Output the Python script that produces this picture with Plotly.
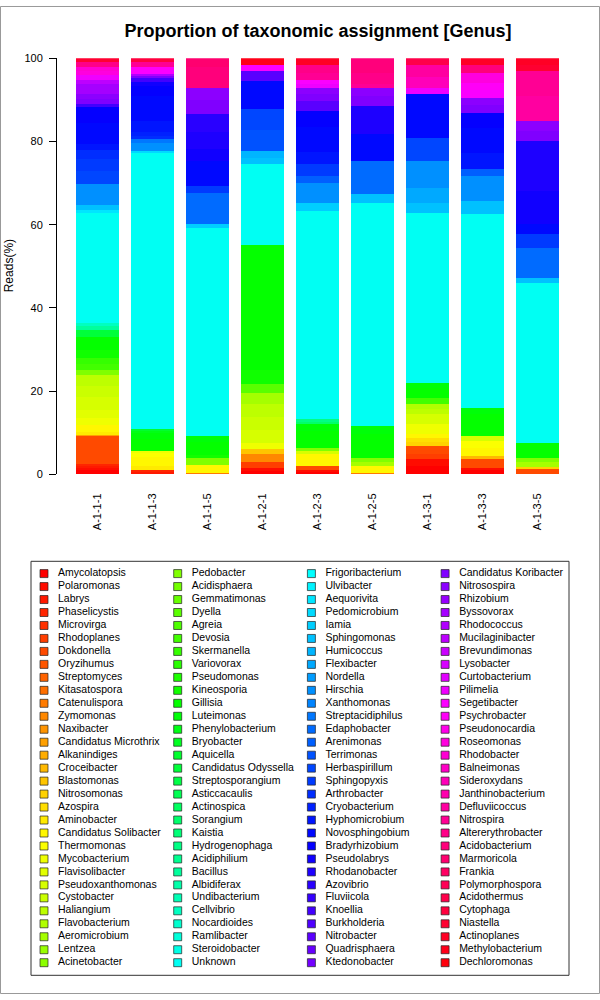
import colorsys
import plotly.graph_objects as go

# ---------------- data ----------------
samples = ["A-1-1-1", "A-1-1-3", "A-1-1-5", "A-1-2-1", "A-1-2-3",
           "A-1-2-5", "A-1-3-1", "A-1-3-3", "A-1-3-5"]

genera = [
    "Amycolatopsis", "Polaromonas", "Labrys", "Phaselicystis", "Microvirga",
    "Rhodoplanes", "Dokdonella", "Oryzihumus", "Streptomyces", "Kitasatospora",
    "Catenulispora", "Zymomonas", "Naxibacter", "Candidatus Microthrix", "Alkanindiges",
    "Croceibacter", "Blastomonas", "Nitrosomonas", "Azospira", "Aminobacter",
    "Candidatus Solibacter", "Thermomonas", "Mycobacterium", "Flavisolibacter", "Pseudoxanthomonas",
    "Cystobacter", "Haliangium", "Flavobacterium", "Aeromicrobium", "Lentzea",
    "Acinetobacter",
    "Pedobacter", "Acidisphaera", "Gemmatimonas", "Dyella", "Agreia",
    "Devosia", "Skermanella", "Variovorax", "Pseudomonas", "Kineosporia",
    "Gillisia", "Luteimonas", "Phenylobacterium", "Bryobacter", "Aquicella",
    "Candidatus Odyssella", "Streptosporangium", "Asticcacaulis", "Actinospica", "Sorangium",
    "Kaistia", "Hydrogenophaga", "Acidiphilium", "Bacillus", "Albidiferax",
    "Undibacterium", "Cellvibrio", "Nocardioides", "Ramlibacter", "Steroidobacter",
    "Unknown",
    "Frigoribacterium", "Ulvibacter", "Aequorivita", "Pedomicrobium", "Iamia",
    "Sphingomonas", "Humicoccus", "Flexibacter", "Nordella", "Hirschia",
    "Xanthomonas", "Streptacidiphilus", "Edaphobacter", "Arenimonas", "Terrimonas",
    "Herbaspirillum", "Sphingopyxis", "Arthrobacter", "Cryobacterium", "Hyphomicrobium",
    "Novosphingobium", "Bradyrhizobium", "Pseudolabrys", "Rhodanobacter", "Azovibrio",
    "Fluviicola", "Knoellia", "Burkholderia", "Nitrobacter", "Quadrisphaera",
    "Ktedonobacter",
    "Candidatus Koribacter", "Nitrosospira", "Rhizobium", "Byssovorax", "Rhodococcus",
    "Mucilaginibacter", "Brevundimonas", "Lysobacter", "Curtobacterium", "Pilimelia",
    "Segetibacter", "Psychrobacter", "Pseudonocardia", "Roseomonas", "Rhodobacter",
    "Balneimonas", "Sideroxydans", "Janthinobacterium", "Defluviicoccus", "Nitrospira",
    "Altererythrobacter", "Acidobacterium", "Marmoricola", "Frankia", "Polymorphospora",
    "Acidothermus", "Cytophaga", "Niastella", "Actinoplanes", "Methylobacterium",
    "Dechloromonas",
]

# reads (%) per genus, per sample (genera not listed are ~0)
A_1_1_1 = {"Amycolatopsis": 1.0, "Polaromonas": 0.6, "Labrys": 0.4, "Phaselicystis": 0.4,
           "Dokdonella": 6.8, "Candidatus Microthrix": 0.3, "Aminobacter": 0.6,
           "Candidatus Solibacter": 1.8, "Mycobacterium": 1.6, "Flavisolibacter": 2.0,
           "Pseudoxanthomonas": 3.2, "Cystobacter": 2.6, "Haliangium": 2.6, "Pedobacter": 1.2,
           "Devosia": 1.4, "Skermanella": 1.4, "Kineosporia": 2.0, "Gillisia": 3.2,
           "Candidatus Odyssella": 1.6, "Bacillus": 1.0, "Cellvibrio": 0.6, "Unknown": 26.4,
           "Aequorivita": 0.8, "Sphingomonas": 1.2, "Hirschia": 5.2, "Herbaspirillum": 3.0,
           "Sphingopyxis": 3.0, "Arthrobacter": 2.0, "Hyphomicrobium": 1.5,
           "Novosphingobium": 5.0, "Bradyrhizobium": 3.9, "Knoellia": 0.8,
           "Candidatus Koribacter": 1.2, "Nitrosospira": 1.2, "Byssovorax": 2.4,
           "Mucilaginibacter": 0.8, "Pilimelia": 1.2, "Roseomonas": 1.0, "Rhodobacter": 1.0,
           "Altererythrobacter": 1.2, "Niastella": 0.9}
A_1_1_3 = {"Labrys": 0.5, "Phaselicystis": 0.5, "Aminobacter": 1.0, "Candidatus Solibacter": 2.2,
           "Thermomonas": 1.0, "Mycobacterium": 0.3, "Gillisia": 3.0, "Luteimonas": 1.5,
           "Phenylobacterium": 0.5, "Aquicella": 0.5, "Unknown": 66.3, "Pedomicrobium": 0.3,
           "Hirschia": 2.0, "Streptacidiphilus": 1.0, "Arthrobacter": 0.8, "Cryobacterium": 1.0,
           "Hyphomicrobium": 2.5, "Novosphingobium": 6.0, "Bradyrhizobium": 2.5,
           "Pseudolabrys": 0.8, "Knoellia": 1.0, "Candidatus Koribacter": 0.6, "Rhodococcus": 0.4,
           "Segetibacter": 1.0, "Psychrobacter": 0.6, "Nitrospira": 1.2, "Cytophaga": 1.0}
A_1_1_5 = {"Catenulispora": 0.3, "Candidatus Solibacter": 1.9, "Pedobacter": 1.8,
           "Kineosporia": 0.7, "Gillisia": 3.0, "Luteimonas": 1.5, "Unknown": 50.1, "Iamia": 0.8,
           "Edaphobacter": 7.6, "Sphingopyxis": 1.6, "Novosphingobium": 6.0, "Pseudolabrys": 3.0,
           "Rhodanobacter": 4.0, "Azovibrio": 4.2, "Candidatus Koribacter": 3.5,
           "Nitrosospira": 2.9, "Acidobacterium": 5.0, "Marmoricola": 2.1}
A_1_2_1 = {"Amycolatopsis": 0.8, "Polaromonas": 0.8, "Rhodoplanes": 1.4, "Zymomonas": 1.8,
           "Blastomonas": 1.2, "Mycobacterium": 1.6, "Pseudoxanthomonas": 3.0, "Cystobacter": 3.2,
           "Haliangium": 3.0, "Aeromicrobium": 2.8, "Dyella": 2.0, "Kineosporia": 3.5,
           "Gillisia": 30.0, "Unknown": 19.4, "Sphingomonas": 1.6, "Humicoccus": 1.6,
           "Terrimonas": 5.0, "Herbaspirillum": 5.0, "Novosphingobium": 6.8, "Nitrobacter": 2.4,
           "Segetibacter": 1.6, "Methylobacterium": 1.5}
A_1_2_3 = {"Amycolatopsis": 0.5, "Polaromonas": 0.5, "Dokdonella": 1.0, "Candidatus Solibacter": 2.8,
           "Pseudoxanthomonas": 0.8, "Pedobacter": 0.8, "Gillisia": 4.0, "Luteimonas": 1.6,
           "Sorangium": 0.6, "Hydrogenophaga": 0.6, "Unknown": 50.1, "Iamia": 2.0, "Hirschia": 4.8,
           "Arenimonas": 1.6, "Sphingopyxis": 2.8, "Hyphomicrobium": 3.0, "Novosphingobium": 6.0,
           "Bradyrhizobium": 3.8, "Nitrobacter": 2.4, "Candidatus Koribacter": 1.6,
           "Nitrosospira": 1.6, "Pilimelia": 1.0, "Segetibacter": 1.0, "Nitrospira": 1.6,
           "Altererythrobacter": 2.0, "Actinoplanes": 1.5}
A_1_2_5 = {"Catenulispora": 0.4, "Candidatus Solibacter": 1.6, "Pedobacter": 1.0,
           "Aeromicrobium": 1.0, "Gillisia": 5.6, "Luteimonas": 2.0, "Unknown": 53.7,
           "Sphingomonas": 2.0, "Edaphobacter": 8.0, "Novosphingobium": 6.4, "Rhodanobacter": 6.8,
           "Candidatus Koribacter": 2.4, "Nitrosospira": 2.0, "Nitrospira": 1.0,
           "Altererythrobacter": 2.5, "Acidobacterium": 3.6}
A_1_3_1 = {"Amycolatopsis": 2.0, "Polaromonas": 1.6, "Rhodoplanes": 1.2, "Dokdonella": 2.0,
           "Nitrosomonas": 1.0, "Azospira": 1.0, "Candidatus Solibacter": 0.8, "Mycobacterium": 2.4,
           "Pseudoxanthomonas": 2.4, "Haliangium": 1.2, "Flavobacterium": 1.2, "Devosia": 1.6,
           "Gillisia": 2.4, "Luteimonas": 1.2, "Unknown": 40.9, "Sphingomonas": 2.4,
           "Flexibacter": 3.6, "Hirschia": 6.4, "Herbaspirillum": 5.6, "Novosphingobium": 10.4,
           "Pilimelia": 1.6, "Sideroxydans": 2.5, "Defluviicoccus": 3.1, "Acidothermus": 1.5}
A_1_3_3 = {"Amycolatopsis": 1.0, "Polaromonas": 0.6, "Dokdonella": 2.0, "Croceibacter": 0.8,
           "Candidatus Solibacter": 2.0, "Thermomonas": 1.6, "Pseudoxanthomonas": 1.2,
           "Gillisia": 5.2, "Luteimonas": 1.6, "Unknown": 46.5, "Sphingomonas": 3.2, "Hirschia": 6.0,
           "Arenimonas": 1.6, "Hyphomicrobium": 4.0, "Novosphingobium": 6.0, "Bradyrhizobium": 3.6,
           "Candidatus Koribacter": 1.8, "Nitrosospira": 1.8, "Segetibacter": 2.0,
           "Psychrobacter": 1.6, "Roseomonas": 2.4, "Acidobacterium": 2.0, "Actinoplanes": 1.5}
A_1_3_5 = {"Dokdonella": 1.2, "Nitrosomonas": 0.6, "Pedobacter": 1.0, "Aeromicrobium": 1.2,
           "Gillisia": 3.6, "Unknown": 38.5, "Sphingomonas": 1.2, "Edaphobacter": 7.2,
           "Sphingopyxis": 3.2, "Novosphingobium": 2.4, "Pseudolabrys": 8.0, "Rhodanobacter": 12.0,
           "Candidatus Koribacter": 2.4, "Nitrosospira": 2.4, "Nitrospira": 6.0,
           "Defluviicoccus": 6.1, "Niastella": 1.5, "Actinoplanes": 1.5}

sample_tables = [A_1_1_1, A_1_1_3, A_1_1_5, A_1_2_1, A_1_2_3, A_1_2_5, A_1_3_1, A_1_3_3, A_1_3_5]

# ---------------- styling ----------------
N = len(genera)
def rainbow(i, n):
    r, g, b = colorsys.hsv_to_rgb(i / n, 1.0, 1.0)
    return "rgb(%d,%d,%d)" % (round(r * 255), round(g * 255), round(b * 255))

colors = [rainbow(i, N) for i in range(N)]
FONT = "Liberation Sans, Arial, Helvetica, sans-serif"
W, H = 600, 1000

# vertical layout positions (px from top of picture), corrected for the capture's
# slight vertical squeeze observed in the previous render
def vy(px):
    return (px - 5.7) / 0.988

def fy(px):  # paper fraction from px
    return 1 - vy(px) / H

fig = go.Figure()

for i, g in enumerate(genera):
    fig.add_trace(go.Bar(
        x=samples, y=[t.get(g, 0) for t in sample_tables], name=g,
        marker=dict(color=colors[i], line=dict(width=0)),
        showlegend=False, xaxis="x", yaxis="y",
    ))

# legend drawn as a scatter in its own (hidden) axes: column/row grid
ROWS = 31
leg_col = [i // ROWS for i in range(N)]
leg_row = [i % ROWS for i in range(N)]
fig.add_trace(go.Scatter(
    x=leg_col, y=leg_row, mode="markers", xaxis="x2", yaxis="y2",
    marker=dict(symbol="square", size=8, color=colors, line=dict(color="#222", width=0.7)),
    showlegend=False, hoverinfo="skip",
))
fig.add_trace(go.Scatter(
    x=[c + 0.105 for c in leg_col], y=leg_row, mode="text", text=genera,
    textposition="middle right", textfont=dict(family=FONT, size=10.5, color="black"),
    xaxis="x2", yaxis="y2", showlegend=False, hoverinfo="skip",
))

# legend grid geometry
col_px0, col_pitch = 44.0, 133.7
row_px0 = vy(573.3)
row_pitch = 12.97 / 0.988
y2_top_px = 540.0

fig.update_layout(
    width=W, height=H,
    margin=dict(l=0, r=0, t=0, b=0),
    paper_bgcolor="white", plot_bgcolor="rgba(0,0,0,0)",
    barmode="stack", bargap=0.218,
    font=dict(family=FONT, size=11, color="black"),
    title=dict(text="Proportion of taxonomic assignment [Genus]",
               font=dict(family=FONT, size=18, color="black", weight="bold"),
               x=318 / W, xanchor="center", xref="paper",
               y=fy(30), yanchor="middle", yref="paper"),
    xaxis=dict(domain=[57 / W, 575 / W], range=[-0.736, 8.682], type="category",
               tickangle=-90, ticks="", showline=False, showgrid=False, zeroline=False,
               tickfont=dict(size=11), ticklabelstandoff=16, anchor="y"),
    yaxis=dict(domain=[fy(474), fy(58)], range=[0, 100],
               tickvals=[0, 20, 40, 60, 80, 100], ticks="outside", ticklen=7,
               tickcolor="black", showline=True, linecolor="black", linewidth=1,
               showgrid=False, zeroline=False, tickfont=dict(size=11),
               ticklabelstandoff=4, anchor="x"),
    xaxis2=dict(domain=[0, 1], range=[-col_px0 / col_pitch, (W - col_px0) / col_pitch],
                visible=False, anchor="y2"),
    yaxis2=dict(domain=[0, 1 - y2_top_px / H],
                range=[(H - row_px0) / row_pitch, (y2_top_px - row_px0) / row_pitch],
                visible=False, anchor="x2"),
    annotations=[dict(text="Reads(%)", x=9 / W, y=fy(266), xref="paper", yref="paper",
                      textangle=-90, showarrow=False, font=dict(size=12),
                      xanchor="center", yanchor="middle")],
    shapes=[
        dict(type="rect", xref="paper", yref="paper",
             x0=31 / W, x1=569 / W, y0=fy(975), y1=fy(561),
             line=dict(color="#333", width=1)),
        dict(type="rect", xref="paper", yref="paper",
             x0=0.5 / W, x1=599.5 / W, y0=0.5 / H, y1=1 - 0.5 / H,
             line=dict(color="#999", width=1)),
    ],
)

# pin the 600x1000 figure to the window's top-left corner with nothing else on the page
fix_page = (
    "var de=document.documentElement, b=document.body;"
    "de.style.margin='0'; de.style.padding='0'; de.style.overflow='hidden';"
    "de.style.width='600px'; de.style.height='1000px';"
    "b.style.margin='0'; b.style.padding='0'; b.style.overflow='hidden';"
    "b.style.width='600px'; b.style.height='1000px';"
    "var g=document.querySelector('.plotly-graph-div');"
    "g.style.position='fixed'; g.style.top='0px'; g.style.left='0px';"
)

fig.write_html("out.html", post_script=fix_page,
               config={"displayModeBar": False, "staticPlot": True})
